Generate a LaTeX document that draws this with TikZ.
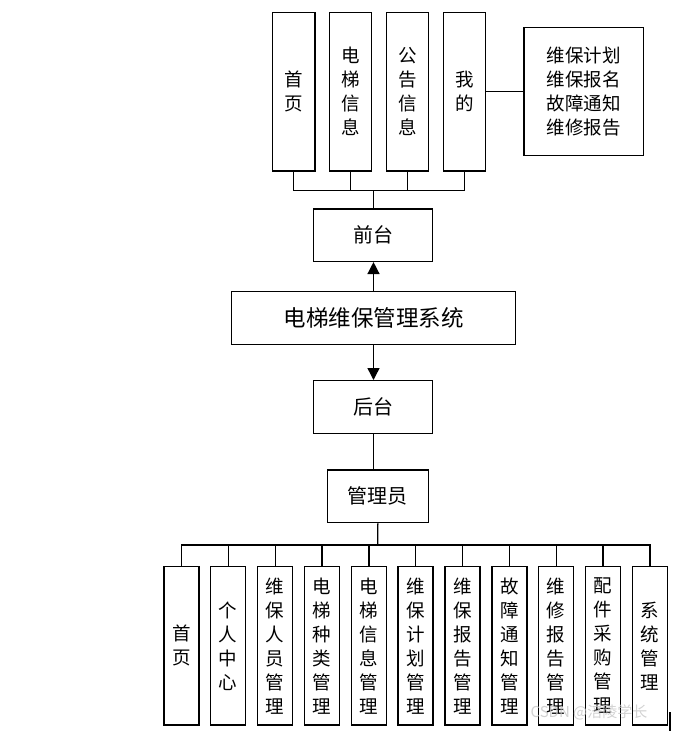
\documentclass[tikz,border=0pt]{standalone}
\usepackage{fontspec}
\newfontfamily\cjk{Noto Sans CJK SC}
\usetikzlibrary{arrows.meta}
\begin{document}
\begin{tikzpicture}[x=1pt,y=-1pt,
  box/.style={draw, line width=1.4pt, inner sep=0pt, align=center, font=\cjk\fontsize{18.5}{24}\selectfont},
  conn/.style={line width=1.4pt},
  arr/.style={line width=1.4pt, -{Triangle[width=12pt,length=12pt]}},
  tall/.style={box, minimum width=42.5pt, minimum height=158.7pt},
  low/.style={box, minimum width=35pt, minimum height=158.3pt}]
\useasboundingbox (0,0) rectangle (678,731);
% top level
\node[tall] (t1) at (293.7,91.7) {首\\页};
\node[tall] (t2) at (350.5,91.7) {电\\梯\\信\\息};
\node[tall] (t3) at (407.5,91.7) {公\\告\\信\\息};
\node[tall] (t4) at (464.5,91.7) {我\\的};
\node[box, minimum width=119.3pt, minimum height=128pt] (r) at (583.7,91.7) {维保计划\\维保报名\\故障通知\\维修报告};
\draw[conn] (t4.east) -- (r.west);
\coordinate (tb) at (373.7,190.7);
\draw[conn] (t1.south) |- (tb);
\draw[conn] (t4.south) |- (tb);
\draw[conn] (t2.south) -- (t2.south |- tb);
\draw[conn] (t3.south) -- (t3.south |- tb);
% middle
\node[box, minimum width=119pt, minimum height=52.3pt, font=\cjk\fontsize{20}{24}\selectfont] (ft) at (373.2,235.2) {前台};
\node[box, minimum width=283.6pt, minimum height=52.6pt, font=\cjk\fontsize{22.5}{24}\selectfont] (sys) at (373.5,318) {电梯维保管理系统};
\node[box, minimum width=119pt, minimum height=52.6pt, font=\cjk\fontsize{20}{24}\selectfont] (bt) at (373.2,407) {后台};
\node[box, minimum width=101pt, minimum height=52.7pt, font=\cjk\fontsize{20}{24}\selectfont] (adm) at (377.8,496.3) {管理员};
\draw[conn] (tb) -- (tb |- ft.north);
\draw[arr] (sys.north) -- (sys.north |- ft.south);
\draw[arr] (sys.south) -- (sys.south |- bt.north);
\draw[conn] (bt.south) -- (bt.south |- adm.north);
% bottom level
\node[low] (b1) at (181.5,645.8) {首\\页};
\node[low] (b2) at (228.2,645.8) {个\\人\\中\\心};
\node[low] (b3) at (275.2,645.8) {维\\保\\人\\员\\管\\理};
\node[low] (b4) at (321.8,645.8) {电\\梯\\种\\类\\管\\理};
\node[low] (b5) at (368.8,645.8) {电\\梯\\信\\息\\管\\理};
\node[low] (b6) at (415.5,645.8) {维\\保\\计\\划\\管\\理};
\node[low] (b7) at (462.5,645.8) {维\\保\\报\\告\\管\\理};
\node[low] (b8) at (509.3,645.8) {故\\障\\通\\知\\管\\理};
\node[low] (b9) at (556.2,645.8) {维\\修\\报\\告\\管\\理};
\node[low] (b10) at (602.8,645.8) {配\\件\\采\\购\\管\\理};
\node[low] (b11) at (649.8,645.8) {系\\统\\管\\理};
\coordinate (bb) at (377.7,545);
\draw[conn] (adm.south) -- (bb);
\draw[conn] (b1.north) |- (bb);
\draw[conn] (b11.north) |- (bb);
\foreach \i in {2,...,10} {\draw[conn] (b\i.north) -- (b\i.north |- bb);}
% watermark
\node[text=gray!45, opacity=0.8, font=\cjk\fontsize{15}{15}\selectfont] (wm) at (589,712) {CSDN @涪陵学长};
\draw[line width=2pt] (670,712) -- (670,731);
\end{tikzpicture}
\end{document}
